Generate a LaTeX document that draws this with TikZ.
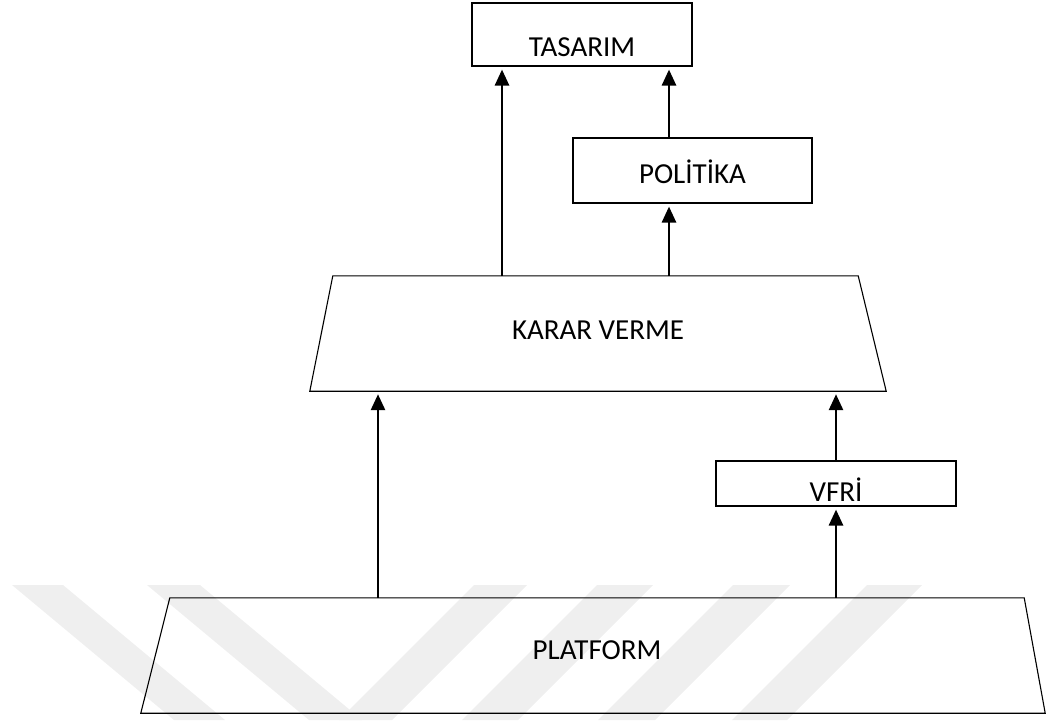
\documentclass[tikz,border=0pt]{standalone}
\usepackage{fontspec}
\setmainfont{Carlito}
\usetikzlibrary{arrows.meta,calc}
\definecolor{wmgray}{RGB}{239,239,239}
\begin{document}
\begin{tikzpicture}[x=1pt,y=-1pt,
  frame/.style={draw=none, rectangle, inner sep=0pt},
  stage/.style={draw=black, line width=1.1pt, rectangle, inner sep=0pt},
  outline/.style={draw=black, line width=1.1pt, line join=miter},
  caption/.style={inner sep=0pt, font=\fontsize{29}{33}\selectfont},
  link/.style={line width=2.7pt, -{Triangle[length=16pt,width=14pt]}, shorten >=3pt},
  band/.style={fill=wmgray, draw=none}
]
\useasboundingbox (0,0) rectangle (1046,720);

% light background bands
\fill[band] (12,585) -- (63,585) -- (225,720) -- (174,720) -- cycle;
\fill[band] (147,585) -- (200,585) -- (362,720) -- (309,720) -- cycle;
\fill[band] (474,585) -- (527,585) -- (392,720) -- (339,720) -- cycle;
\fill[band] (597,585) -- (653,585) -- (518,720) -- (462,720) -- cycle;
\fill[band] (733,585) -- (790,585) -- (655,720) -- (598,720) -- cycle;
\fill[band] (867,585) -- (922,585) -- (787,720) -- (732,720) -- cycle;

% rectangular stages
\node[stage, minimum width=220pt, minimum height=63pt] (tasarim) at (582,34.5) {};
\node[caption] (tasarimtxt) at (582,47) {TASARIM};

\node[stage, minimum width=239pt, minimum height=65pt] (politika) at (692.5,170.5) {};
\node[caption] (politikatxt) at (692.5,172) {POLİTİKA};

\node[stage, minimum width=240pt, minimum height=45pt] (veri) at (836,483.5) {};
\node[caption] (veritxt) at (836,490) {VFRİ};

% trapezoidal stages
\node[frame, minimum width=576pt, minimum height=115pt] (karar) at (598,333.5) {};
\draw[outline] ($(karar.north west)+(23,0)$) -- ($(karar.north east)+(-28,0)$)
  -- (karar.south east) -- (karar.south west) -- cycle;
\node[caption] (karartxt) at (598,330) {KARAR VERME};

\node[frame, minimum width=904pt, minimum height=115pt] (platform) at (593,655.5) {};
\draw[outline] ($(platform.north west)+(29,0)$) -- ($(platform.north east)+(-21,0)$)
  -- (platform.south east) -- (platform.south west) -- cycle;
\node[caption] (platformtxt) at (597,650) {PLATFORM};

% arrow columns
\coordinate (colA) at (378,0);
\coordinate (colB) at (836,0);
\coordinate (colC) at (502,0);
\coordinate (colD) at (669,0);

\draw[link] (colA |- platform.north) -- (colA |- karar.south);
\draw[link] (colB |- platform.north) -- (colB |- veri.south);
\draw[link] (colB |- veri.north) -- (colB |- karar.south);
\draw[link] (colC |- karar.north) -- (colC |- tasarim.south);
\draw[link] (colD |- karar.north) -- (colD |- politika.south);
\draw[link] (colD |- politika.north) -- (colD |- tasarim.south);
\end{tikzpicture}
\end{document}
